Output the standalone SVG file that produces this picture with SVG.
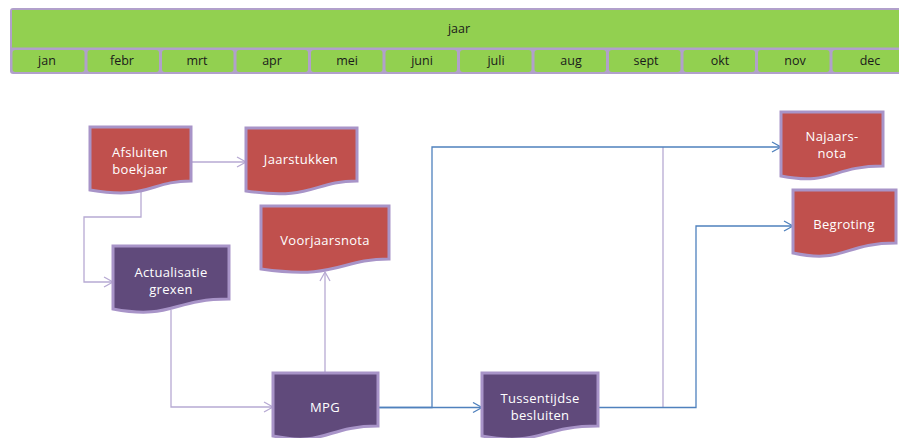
<svg xmlns="http://www.w3.org/2000/svg" width="899" height="438" viewBox="0 0 899 438">
<defs>
<style>
.bar{fill:#B1A0CB}
.green{fill:#92D050}
.mon{fill:#92D050}
.mt{font-family:"Open Sans","Liberation Sans",sans-serif;font-size:12.5px;fill:#1a1a1a;text-anchor:middle}
.red{fill:#C0504D;stroke:#A894C8;stroke-width:3}
.pur{fill:#604A7B;stroke:#A894C8;stroke-width:3}
.nt{font-family:"Open Sans","Liberation Sans",sans-serif;font-size:13px;fill:#FFFFFF;text-anchor:middle;letter-spacing:0.3px}
.lav{fill:none;stroke:#B7AAD3;stroke-width:1.3}
.blue{fill:none;stroke:#4F81BD;stroke-width:1.3}
</style>
<marker id="al" markerWidth="12" markerHeight="12" refX="10" refY="6" orient="auto" markerUnits="userSpaceOnUse"><path d="M1,1 L10,6 L1,11" fill="none" stroke="#B7AAD3" stroke-width="1.3"/></marker>
<marker id="ab" markerWidth="12" markerHeight="12" refX="10" refY="6" orient="auto" markerUnits="userSpaceOnUse"><path d="M1,1 L10,6 L1,11" fill="none" stroke="#4F81BD" stroke-width="1.3"/></marker>
</defs>
<g id="timeline">
<rect class="bar" x="10" y="8" width="900" height="66" rx="3"/>
<rect class="green" x="12" y="10" width="898" height="37.5"/>
<text x="459" y="33" class="mt">jaar</text>
<rect class="mon" x="12.5" y="50" width="72" height="22" rx="3"/>
<rect class="mon" x="87.5" y="50" width="71.5" height="22" rx="3"/>
<rect class="mon" x="162" y="50" width="71.5" height="22" rx="3"/>
<rect class="mon" x="236.5" y="50" width="71.5" height="22" rx="3"/>
<rect class="mon" x="311" y="50" width="71.5" height="22" rx="3"/>
<rect class="mon" x="385.5" y="50" width="71.5" height="22" rx="3"/>
<rect class="mon" x="460" y="50" width="71.5" height="22" rx="3"/>
<rect class="mon" x="534.5" y="50" width="71.5" height="22" rx="3"/>
<rect class="mon" x="609" y="50" width="71.5" height="22" rx="3"/>
<rect class="mon" x="683.5" y="50" width="71.5" height="22" rx="3"/>
<rect class="mon" x="758" y="50" width="71.5" height="22" rx="3"/>
<rect class="mon" x="832.5" y="50" width="71.5" height="22" rx="3"/>
<text x="47" y="65" class="mt">jan</text>
<text x="122" y="65" class="mt">febr</text>
<text x="197" y="65" class="mt">mrt</text>
<text x="272" y="65" class="mt">apr</text>
<text x="347" y="65" class="mt">mei</text>
<text x="422" y="65" class="mt">juni</text>
<text x="496" y="65" class="mt">juli</text>
<text x="571" y="65" class="mt">aug</text>
<text x="646" y="65" class="mt">sept</text>
<text x="720" y="65" class="mt">okt</text>
<text x="795" y="65" class="mt">nov</text>
<text x="870" y="65" class="mt">dec</text>
</g>
<g id="connectors">
<path class="lav" d="M192,162 H246" marker-end="url(#al)"/>
<path class="lav" d="M141,190 V217 H84 V282 H113" marker-end="url(#al)"/>
<path class="lav" d="M171,310 V407 H273" marker-end="url(#al)"/>
<path class="lav" d="M325,373 V272" marker-end="url(#al)"/>
<path class="lav" d="M663,147 V408"/>
<path class="blue" d="M378,407.5 H482" marker-end="url(#ab)"/>
<path class="blue" d="M378,407.5 H432 V147 H781" marker-end="url(#ab)"/>
<path class="blue" d="M598,407.5 H696 V226 H793" marker-end="url(#ab)"/>
</g>
<g id="afsluiten">
<path class="red" d="M90,127 H191 V181 C150,181 150,200 90,190 Z"/>
<text x="140" y="157" class="nt">Afsluiten</text>
<text x="140" y="174" class="nt">boekjaar</text>
</g>
<g id="jaarstukken">
<path class="red" d="M246,128 H357 V181 C313,181 313,201 246,191 Z"/>
<text x="301" y="164" class="nt">Jaarstukken</text>
</g>
<g id="voorjaarsnota">
<path class="red" d="M261,206 H389 V259 C339,259 339,280 261,269 Z"/>
<text x="325" y="245" class="nt">Voorjaarsnota</text>
</g>
<g id="actualisatie">
<path class="pur" d="M113,246 H229 V299 C172,299 172,320 113,309 Z"/>
<text x="171" y="277" class="nt">Actualisatie</text>
<text x="171" y="294" class="nt">grexen</text>
</g>
<g id="mpg">
<path class="pur" d="M273,373 H378 V426 C326,426 326,447 273,436 Z"/>
<text x="325" y="412" class="nt">MPG</text>
</g>
<g id="tussentijdse">
<path class="pur" d="M482,373 H598 V426 C540,426 540,447 482,436 Z"/>
<text x="540" y="403" class="nt">Tussentijdse</text>
<text x="540" y="420" class="nt">besluiten</text>
</g>
<g id="najaarsnota">
<path class="red" d="M781,112 H883 V166 C832,166 832,186 781,176 Z"/>
<text x="832" y="141" class="nt">Najaars-</text>
<text x="832" y="158" class="nt">nota</text>
</g>
<g id="begroting">
<path class="red" d="M793,190 H896 V243 C844,243 844,264 793,253 Z"/>
<text x="844" y="229" class="nt">Begroting</text>
</g>
</svg>
